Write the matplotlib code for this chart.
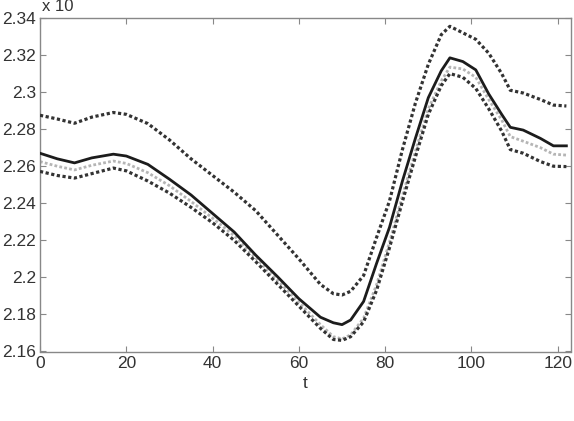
import matplotlib
matplotlib.use("Agg")
import matplotlib.pyplot as plt

t = [0, 4, 8, 12, 17, 20, 25, 30, 35, 40, 45, 50, 55, 60, 65, 68, 70, 72, 75, 78,
     81, 84, 87, 90, 93, 95, 98, 101, 104, 107, 109, 112, 116, 119, 122]

mean_line = [2.2670, 2.2640, 2.2618, 2.2645, 2.2665, 2.2655, 2.2610, 2.2530, 2.2445, 2.2345,
             2.2245, 2.2120, 2.2005, 2.1885, 2.1785, 2.1755, 2.1745, 2.1770, 2.1870, 2.2075,
             2.2270, 2.2520, 2.2750, 2.2970, 2.3115, 2.3185, 2.3165, 2.3120, 2.2990, 2.2880,
             2.2810, 2.2795, 2.2750, 2.2710, 2.2710]

upper = [2.2875, 2.2855, 2.2832, 2.2865, 2.2890, 2.2880, 2.2830, 2.2742, 2.2640, 2.2550,
         2.2460, 2.2360, 2.2230, 2.2100, 2.1962, 2.1912, 2.1905, 2.1925, 2.2010, 2.2215,
         2.2412, 2.2690, 2.2940, 2.3150, 2.3310, 2.3355, 2.3320, 2.3285, 2.3210, 2.3100,
         2.3010, 2.2995, 2.2960, 2.2930, 2.2925]

lower = [2.2572, 2.2550, 2.2536, 2.2560, 2.2590, 2.2575, 2.2520, 2.2455, 2.2378, 2.2295,
         2.2200, 2.2085, 2.1965, 2.1845, 2.1725, 2.1665, 2.1660, 2.1680, 2.1760, 2.1930,
         2.2160, 2.2410, 2.2650, 2.2880, 2.3035, 2.3100, 2.3080, 2.3020, 2.2910, 2.2790,
         2.2690, 2.2670, 2.2625, 2.2600, 2.2598]

gray_line = [2.2625, 2.2600, 2.2580, 2.2605, 2.2628, 2.2615, 2.2565, 2.2495, 2.2410, 2.2320,
             2.2225, 2.2105, 2.1985, 2.1865, 2.1745, 2.1680, 2.1668, 2.1690, 2.1780, 2.1960,
             2.2190, 2.2440, 2.2680, 2.2910, 2.3060, 2.3135, 2.3125, 2.3080, 2.2960, 2.2850,
             2.2760, 2.2735, 2.2700, 2.2665, 2.2660]

xticks = [0, 20, 40, 60, 80, 100, 120]
yticks = [2.16, 2.18, 2.2, 2.22, 2.24, 2.26, 2.28, 2.3, 2.32, 2.34]
ytick_labels = ["2.16", "2.18", "2.2", "2.22", "2.24", "2.26", "2.28", "2.3", "2.32", "2.34"]

plt.rcParams['font.family'] = ['Liberation Sans', 'DejaVu Sans']

W, H = 574, 421
fig = plt.figure(figsize=(W / 100, H / 100), dpi=100)
left, right, top, bottom = 40, 570.7, 18, 351.5
ax = fig.add_axes([left / W, (H - bottom) / H, (right - left) / W, (bottom - top) / H])

ax.plot(t, gray_line, color='#b5b5b5', lw=2.0, linestyle=(0, (1, 0.8)), dash_capstyle='butt', zorder=2)
ax.plot(t, upper, color='#333333', lw=2.3, linestyle=(0, (1, 0.8)), dash_capstyle='butt', zorder=3)
ax.plot(t, lower, color='#333333', lw=2.3, linestyle=(0, (1, 0.8)), dash_capstyle='butt', zorder=3)
ax.plot(t, mean_line, color='#1c1c1c', lw=2.0, zorder=4)

ax.set_xlim(0, 123)
ax.set_ylim(2.16, 2.34)
ax.set_xticks(xticks)
ax.set_yticks(yticks)
ax.set_yticklabels(ytick_labels)
ax.tick_params(direction='in', top=True, right=True, length=4, width=0.8,
               color='#888888', labelcolor='#333333', labelsize=12.5, pad=3)
for s in ax.spines.values():
    s.set_color('#888888')
    s.set_linewidth(1.0)
ax.set_xlabel('t', fontsize=12.5, color='#333333', labelpad=4)

fig.text(42 / W, 1 - 11 / H, 'x 10', fontsize=12, color='#333333', ha='left', va='baseline')

fig.savefig('out.png', dpi=100)
